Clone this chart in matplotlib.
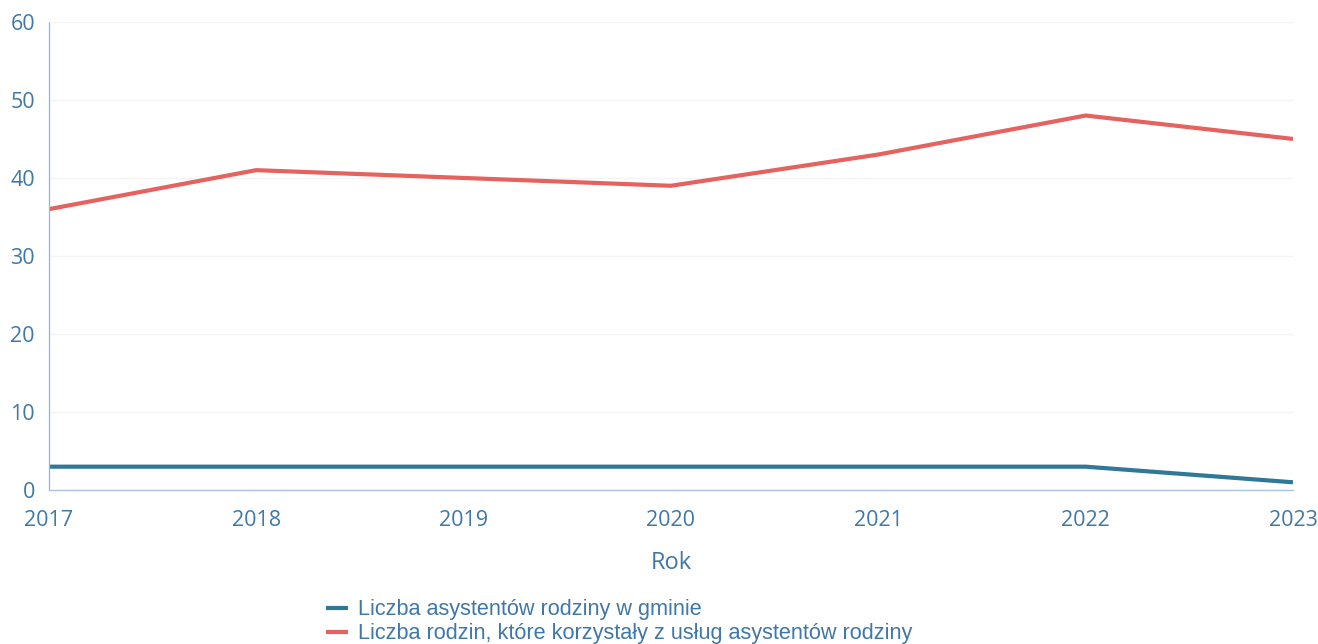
import matplotlib
matplotlib.use("Agg")
import matplotlib.pyplot as plt

# data
years = [2017, 2018, 2019, 2020, 2021, 2022, 2023]
assistants = [3, 3, 3, 3, 3, 3, 1]
families = [36, 41, 40, 39, 43, 48, 45]
labels = ["Liczba asystentów rodziny w gminie",
          "Liczba rodzin, które korzystały z usług asystentów rodziny"]

tickColor = "#3f78a6"
blue = "#2f7897"
red = "#e5625e"

fig = plt.figure(figsize=(13.18, 6.44), dpi=100)
ax = fig.add_axes([0.037, 0.239, 0.944, 0.727])

ax.plot(years, assistants, color=blue, linewidth=3.0, label=labels[0], solid_capstyle="butt")
ax.plot(years, families, color=red, linewidth=3.0, label=labels[1], solid_capstyle="butt")

ax.set_xlim(2017, 2023)
ax.set_ylim(0, 60)
ax.set_yticks(range(0, 61, 10))
ax.set_xticks(years)
ax.grid(axis="y", color="#f4f4f4", linewidth=1)
ax.set_axisbelow(True)

for s in ["top", "right"]:
    ax.spines[s].set_visible(False)
ax.spines["left"].set_color("#7fbde8")
ax.spines["left"].set_linestyle((0, (2, 1)))
ax.spines["left"].set_linewidth(0.9)
ax.spines["bottom"].set_color("#a9c6e6")
ax.spines["bottom"].set_linewidth(1.0)

ax.tick_params(axis="both", length=0, labelcolor=tickColor, labelsize=15.5)
ax.tick_params(axis="x", pad=14)
ax.tick_params(axis="y", pad=10)
for t in ax.get_xticklabels() + ax.get_yticklabels():
    t.set_fontfamily("Open Sans")

ax.set_xlabel("Rok", color=tickColor, fontsize=17, fontfamily="Open Sans", labelpad=15)

leg = fig.legend(loc="upper left", bbox_to_anchor=(0.241, 0.083), frameon=False,
                 handlelength=1.0, handletextpad=0.45, labelspacing=0.15,
                 borderaxespad=0, prop={"family": "Liberation Sans", "size": 15.6})
for t in leg.get_texts():
    t.set_color(tickColor)

fig.savefig("out.png", dpi=100)
